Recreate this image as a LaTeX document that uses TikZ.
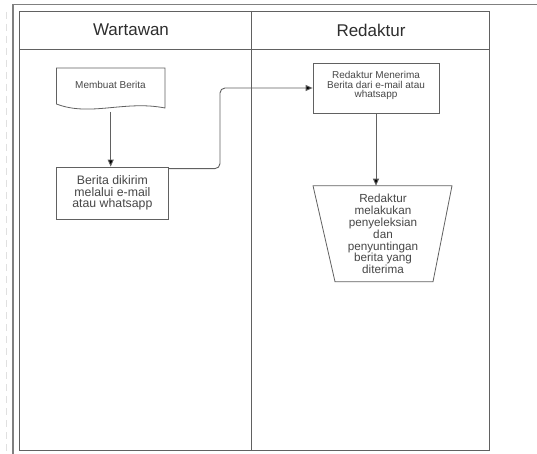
\documentclass[tikz,border=0pt]{standalone}
\usepackage{fontspec}
\setmainfont{Liberation Sans}
\usetikzlibrary{arrows.meta}
\begin{document}
\begin{tikzpicture}[x=1pt,y=-1pt,
  lane/.style={draw=black!62,line width=0.9pt},
  shapeline/.style={draw=black!62,line width=0.8pt},
  box/.style={draw=black!62,line width=0.8pt,fill=white,text=black!72,align=center,inner sep=0pt},
  lbl/.style={text=black!72,align=center,inner sep=0pt},
  conn/.style={draw=black!62,line width=0.9pt,-{Triangle[length=7pt,width=6pt,fill=black]}},
  head/.style={text=black!82,font=\fontsize{17}{20}\selectfont,inner sep=0pt},
]
\useasboundingbox (0,0) rectangle (537,454);
\fill[white] (0,0) rectangle (537,454);
% faint binding marks and outer frame
\draw[black!12,line width=1pt,dash pattern=on 7pt off 5pt] (6,12) -- (6,454);
\draw[black!50,line width=1.2pt] (13,454) -- (13,4.5) -- (537,4.5);
% swimlane table
\draw[lane] (19,11) rectangle (489,450);
\draw[lane] (19,49.5) -- (489,49.5);
\draw[lane] (251,11) -- (251,450);
\node[head] (h1) at (131,30) {Wartawan};
\node[head] (h2) at (371,30) {Redaktur};
% document shape
\draw[shapeline,fill=white] (56.5,68) -- (165,68) -- (165,108)
   .. controls (125,100) and (90,117) .. (56.5,104) -- cycle;
\node[lbl,font=\fontsize{10}{11}\selectfont] (d1) at (110.5,85) {Membuat Berita};
\coordinate (d1b) at (110.7,112);
% Berita dikirim
\node[box,minimum width=111.3pt,minimum height=52pt,
  font=\fontsize{12.3}{11.8}\selectfont] (b2) at (112.4,193)
  {Berita dikirim\\melalui e-mail\\atau whatsapp};
% Redaktur menerima
\node[box,minimum width=126pt,minimum height=50pt] (r1) at (376,88) {};
\node[lbl,font=\fontsize{10}{9.4}\selectfont] (r1t) at (376,85.5)
  {Redaktur Menerima\\Berita dari e-mail atau\\whatsapp};
% trapezoid
\draw[shapeline,fill=white] (313,185.7) -- (452,185.7) -- (433,281.7) -- (335,281.7) -- cycle;
\node[lbl,font=\fontsize{11.7}{11.9}\selectfont] (t1) at (383,234)
  {Redaktur\\melakukan\\penyeleksian\\dan\\penyuntingan\\berita yang\\diterima};
\coordinate (t1top) at (376,185.7);
\coordinate (k) at (220,88);
% connectors
\draw[conn] (d1b) -- (d1b |- b2.north);
\draw[conn,rounded corners=5pt] ([yshift=-2pt]b2.north east) -| (k) -- (r1.west);
\draw[conn] (r1.south) -- (t1top);
\end{tikzpicture}
\end{document}
